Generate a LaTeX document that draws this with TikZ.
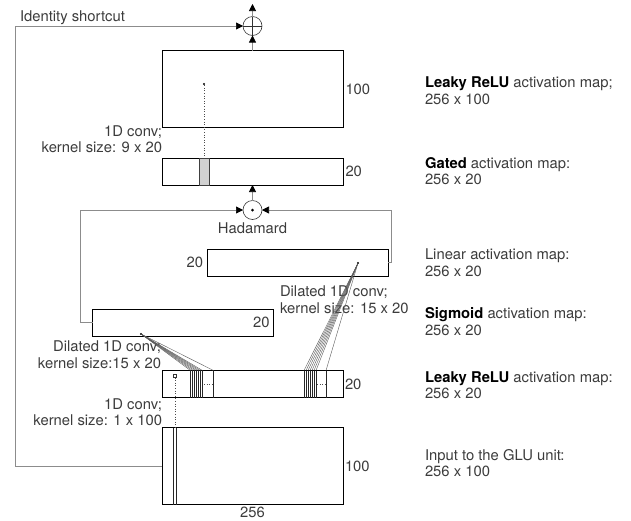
\documentclass[tikz,border=0pt]{standalone}
\usepackage{fontspec}
\setmainfont{TeX Gyre Heros}
\usetikzlibrary{arrows.meta,calc}
\definecolor{txt}{HTML}{3C3C3C}
\definecolor{conn}{HTML}{8C8C8C}
\begin{document}
\begin{tikzpicture}[x=1pt,y=-1pt,
  every node/.style={inner sep=0pt, outer sep=0pt},
  mapbox/.style={draw=black, line width=0.8pt, minimum width=181pt},
  tall/.style={minimum height=77pt},
  flat/.style={minimum height=27pt},
  lbl/.style={font=\fontsize{14.8}{16.5}\selectfont, text=txt},
  opnode/.style={circle, draw=black!80, line width=0.6pt, minimum size=19pt},
  plusop/.style={opnode, path picture={\draw[black!80, line width=0.6pt]
      (path picture bounding box.north) -- (path picture bounding box.south)
      (path picture bounding box.west) -- (path picture bounding box.east);}},
  dotop/.style={opnode, path picture={\fill[black] (path picture bounding box.center) circle (1.5pt);}},
  dotmark/.style={circle, fill=black, minimum size=2.4pt},
  sqmark/.style={draw=black!80, line width=0.5pt, minimum size=3pt},
  gstrip/.style={draw=black!75, fill=black!18, line width=0.7pt, minimum width=10pt, minimum height=27pt},
  conline/.style={draw=conn, line width=0.7pt},
  arr/.style={-{Triangle[length=7pt,width=7pt,color=black]}},
  stripline/.style={black!85, line width=0.9pt},
  fanline/.style={black!65, line width=0.4pt},
  dotline/.style={black!70, dotted, line width=0.6pt},
]
\useasboundingbox (0,0) rectangle (631,520);

% activation maps
\node[mapbox,tall] (top) at (252.5,89) {};
\node[mapbox,flat] (gated) at (252.5,171.5) {};
\node[mapbox,flat] (linear) at (297.5,262.5) {};
\node[mapbox,flat] (sigm) at (183,322.5) {};
\node[mapbox,flat] (leaky) at (252.5,384) {};
\node[mapbox,tall] (input) at (252.5,466) {};

% operators
\node[plusop] (plus) at (252.5,26) {};
\node[dotop] (had) at (252.5,210) {};

% gated strip and top conv
\node[gstrip] (gs) at (204,171.5) {};
\node[dotmark] (tdot) at (204,84) {};
\draw[dotline] (tdot) -- (gs.north);

% strips in leaky map
\foreach \x in {190.5,192.5,194.5,196.5,198.5,200.5,202.5,213.5,304,306,308,310,312,314,316,326}
  \draw[stripline] (\x,0 |- leaky.north) -- (\x,0 |- leaky.south);
\draw[dotline] (204,0 |- leaky.center) -- (212,0 |- leaky.center);
\draw[dotline] (317,0 |- leaky.center) -- (325,0 |- leaky.center);

% input strip
\foreach \x in {173.5,176}
  \draw[stripline] (\x,0 |- input.north) -- (\x,0 |- input.south);
\node[sqmark] (sq) at (175,376) {};
\draw[dotline] (sq.south) -- (sq.south |- input.north);

% labels
\node[lbl, anchor=base west] (idl) at (20,21) {Identity shortcut};
\node[lbl, anchor=west] (n1) at ($(top.east)+(2.5,0)$) {100};
\node[lbl, anchor=west] (n2) at ($(gated.east)+(2.5,0)$) {20};
\node[lbl, anchor=east] (n3) at ($(linear.west)+(-4,0)$) {20};
\node[lbl, anchor=east] (n4) at ($(sigm.east)+(-4,0)$) {20};
\node[lbl, anchor=west] (n5) at ($(leaky.east)+(2,0)$) {20};
\node[lbl, anchor=west] (n6) at ($(input.east)+(2,0)$) {100};
\node[lbl, anchor=north] (n7) at ($(input.south)+(0,2)$) {256};
\node[lbl, anchor=north] (hl) at ($(had.south)+(0,3.5)$) {Hadamard};

\node[lbl, anchor=east, align=right] (l1) at (162,139) {1D conv;\\kernel size: 9 x 20};
\node[lbl, anchor=west, align=left] (l2) at (280,299.5) {Dilated 1D conv;\\kernel size: 15 x 20};
\node[lbl, anchor=east, align=right] (l3) at (161,354.5) {Dilated 1D conv;\\kernel size:15 x 20};
\node[lbl, anchor=east, align=right] (l4) at (162,412) {1D conv;\\kernel size: 1 x 100};

\node[lbl, anchor=west, align=left] (r1) at (425,90.5) {\textcolor{black}{\textbf{Leaky ReLU}} activation map;\\256 x 100};
\node[lbl, anchor=west, align=left] (r2) at (425,171) {\textcolor{black}{\textbf{Gated}} activation map:\\256 x 20};
\node[lbl, anchor=west, align=left] (r3) at (425,262.5) {Linear activation map:\\256 x 20};
\node[lbl, anchor=west, align=left] (r4) at (425,321.5) {\textcolor{black}{\textbf{Sigmoid}} activation map:\\256 x 20};
\node[lbl, anchor=west, align=left] (r5) at (425,385) {\textcolor{black}{\textbf{Leaky ReLU}} activation map:\\256 x 20};
\node[lbl, anchor=west, align=left] (r6) at (425,463) {Input to the GLU unit:\\256 x 100};

% dilated conv dots and fans
\node[dotmark] (sdot) at (141,334) {};
\node[dotmark] (ldot) at (358,263) {};
\foreach \x in {190.5,192.5,194.5,196.5,198.5,200.5,202.5,213.5}
  \draw[fanline] (sdot) -- (\x,0 |- leaky.north);
\foreach \x in {304,306,308,310,312,314,316,326}
  \draw[fanline] (ldot) -- (\x,0 |- leaky.north);

% connectors
\coordinate (idc) at (15,466);
\draw[conline,arr] (input.west) -- (idc) |- (plus.west);
\coordinate (sgc) at (80,322.5);
\draw[conline,arr] (sigm.west) -- (sgc) |- (had.west);
\coordinate (lnc) at (391,262.5);
\draw[conline,arr] (linear.east) -- (lnc) |- (had.east);
\draw[conline,arr] (top.north) -- (plus.south);
\draw[conline,arr] (had.north) -- (gated.south);
\coordinate (outc) at (252.5,4);
\draw[conline,arr] (plus.north) -- (outc);
\end{tikzpicture}
\end{document}
